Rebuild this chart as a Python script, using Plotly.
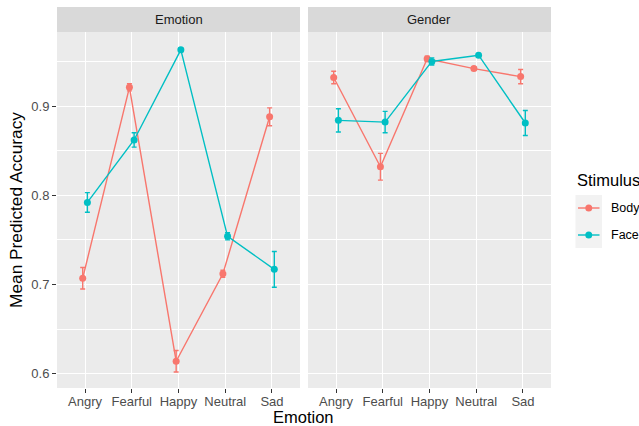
import plotly.graph_objects as go
from plotly.subplots import make_subplots

# Categories and facets
emotions = ["Angry", "Fearful", "Happy", "Neutral", "Sad"]
tasks = ["Emotion", "Gender"]
stimuli = ["Body", "Face"]

# Mean predicted accuracy per task x stimulus, and the half-width of the error bars
emotion_body = [0.707, 0.921, 0.614, 0.712, 0.888]
emotion_body_err = [0.012, 0.004, 0.012, 0.004, 0.010]
emotion_face = [0.792, 0.862, 0.963, 0.754, 0.717]
emotion_face_err = [0.011, 0.008, 0.002, 0.004, 0.020]

gender_body = [0.932, 0.832, 0.953, 0.942, 0.933]
gender_body_err = [0.007, 0.015, 0.003, 0.002, 0.008]
gender_face = [0.884, 0.882, 0.950, 0.957, 0.881]
gender_face_err = [0.013, 0.012, 0.004, 0.002, 0.014]

y_ticks = [0.6, 0.7, 0.8, 0.9]

BODY = "#F8766D"
FACE = "#00BFC4"
FONT = "Liberation Sans, Arial, sans-serif"
DODGE = 0.05

W, H = 639, 426
ML, MR, MT, MB = 57, 88, 32, 38
PW, PH = W - ML - MR, H - MT - MB


def px_x(px):
    return (px - ML) / PW


def px_y(py):
    return (H - MB - py) / PH


fig = make_subplots(rows=1, cols=2, shared_yaxes=True, horizontal_spacing=8 / PW)

panels = [
    (emotion_body, emotion_body_err, emotion_face, emotion_face_err),
    (gender_body, gender_body_err, gender_face, gender_face_err),
]

for col, (b, be, f, fe) in enumerate(panels, start=1):
    for name, vals, errs, color, off in [
        ("Body", b, be, BODY, -DODGE),
        ("Face", f, fe, FACE, DODGE),
    ]:
        fig.add_trace(
            go.Scatter(
                x=[i + 1 + off for i in range(len(emotions))],
                y=vals,
                mode="lines+markers",
                name=name,
                showlegend=False,
                line=dict(color=color, width=1.4),
                marker=dict(color=color, size=7),
                error_y=dict(type="data", array=errs, color=color,
                             thickness=1.4, width=2.5),
            ),
            row=1, col=col,
        )

for col in (1, 2):
    fig.update_xaxes(
        range=[0.4, 5.6], tickvals=[1, 2, 3, 4, 5], ticktext=emotions,
        showgrid=True, gridcolor="white", gridwidth=1.1, zeroline=False,
        ticks="outside", ticklen=4, tickcolor="#333333", tickwidth=1.1,
        ticklabelstandoff=-3,
        tickfont=dict(family=FONT, size=13, color="#4D4D4D"),
        showline=False, row=1, col=col,
    )
    fig.update_yaxes(
        range=[0.584, 0.983], tickvals=y_ticks,
        showgrid=True, gridcolor="white", gridwidth=1.1, zeroline=False,
        minor=dict(tickvals=[0.65, 0.75, 0.85, 0.95], showgrid=True,
                   gridcolor="white", gridwidth=0.55, ticks=""),
        ticks="outside" if col == 1 else "", ticklen=4, tickcolor="#333333",
        tickwidth=1.1,
        tickfont=dict(family=FONT, size=13, color="#4D4D4D"),
        showline=False, row=1, col=col,
    )

fig.update_yaxes(
    title=dict(text="Mean Predicted Accuracy",
               font=dict(family=FONT, size=17.3, color="black"), standoff=4),
    row=1, col=1,
)

# Facet strips
dom1 = fig.layout.xaxis.domain
dom2 = fig.layout.xaxis2.domain
strip_h = 25 / PH
for dom, label in zip([dom1, dom2], tasks):
    fig.add_shape(type="rect", xref="paper", yref="paper",
                  x0=dom[0], x1=dom[1], y0=1.0, y1=1.0 + strip_h,
                  fillcolor="#D9D9D9", line=dict(width=0), layer="below")
    fig.add_annotation(x=(dom[0] + dom[1]) / 2, y=1.0 + strip_h / 2,
                       xref="paper", yref="paper", text=label, showarrow=False,
                       xanchor="center", yanchor="middle",
                       font=dict(family=FONT, size=13, color="#1A1A1A"))

# Shared x-axis title
fig.add_annotation(x=px_x(303), y=px_y(417), xref="paper", yref="paper",
                   text="Emotion", showarrow=False, xanchor="center", yanchor="middle",
                   font=dict(family=FONT, size=16.5, color="black"))

# Legend: title, grey key panel, line+point keys and labels
fig.add_annotation(x=px_x(575), y=px_y(180), xref="paper", yref="paper",
                   text="Stimulus", showarrow=False, xanchor="left", yanchor="middle",
                   font=dict(family=FONT, size=16.5, color="black"))
fig.add_shape(type="rect", xref="paper", yref="paper",
              x0=px_x(575.5), x1=px_x(602), y0=px_y(248), y1=px_y(195),
              fillcolor="#F2F2F2", line=dict(width=0), layer="below")
for name, color, ky in zip(stimuli, [BODY, FACE], [208, 235]):
    fig.add_shape(type="line", xref="paper", yref="paper",
                  x0=px_x(578), x1=px_x(599.5), y0=px_y(ky), y1=px_y(ky),
                  line=dict(color=color, width=1.4))
    fig.add_shape(type="circle", xref="paper", yref="paper",
                  x0=px_x(585.3), x1=px_x(592.2), y0=px_y(ky + 3.5), y1=px_y(ky - 3.5),
                  fillcolor=color, line=dict(width=0))
    fig.add_annotation(x=px_x(609), y=px_y(ky), xref="paper", yref="paper",
                       text=name, showarrow=False, xanchor="left", yanchor="middle",
                       font=dict(family=FONT, size=12.5, color="black"))

fig.update_layout(
    width=W, height=H,
    margin=dict(l=ML, r=MR, t=MT, b=MB),
    plot_bgcolor="#EBEBEB",
    paper_bgcolor="white",
    font=dict(family=FONT),
    showlegend=False,
)

fig.write_html("out.html")
